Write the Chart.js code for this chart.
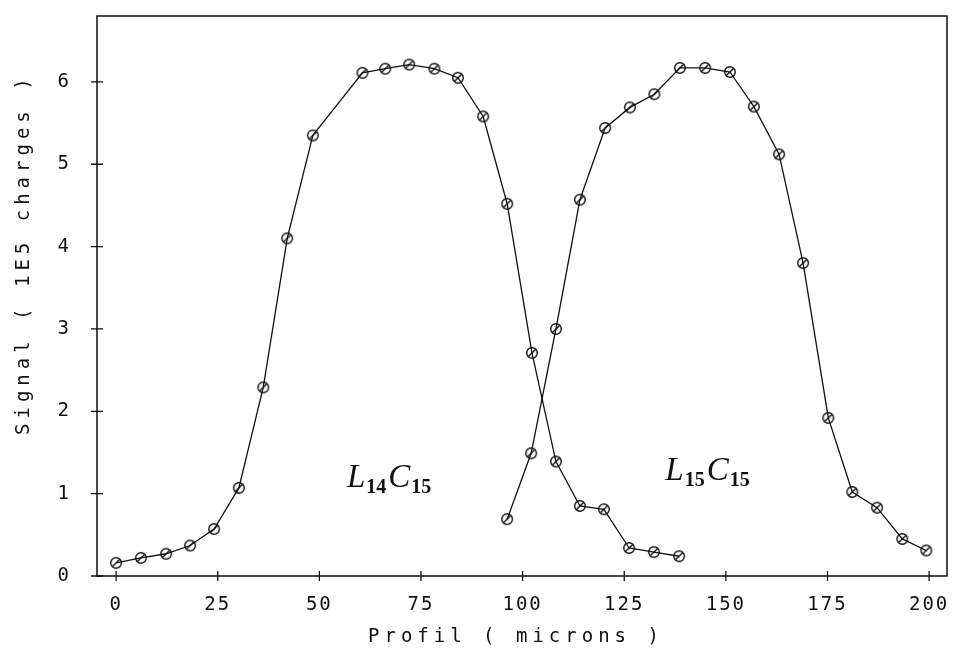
<!DOCTYPE html>
<html>
<head>
<meta charset="utf-8">
<script src="https://cdn.jsdelivr.net/npm/chart.js@4/dist/chart.umd.min.js"></script>
<style>
  html, body { margin: 0; padding: 0; background: #fff; }
  #chart { display: block; }
</style>
</head>
<body>
<canvas id="chart" width="974" height="648"></canvas>
<script>
// profile L14C15 (microns, 1E5 charges)
const xL14 = [0, 6.1, 12.3, 18.2, 24.1, 30.2, 36.2, 42.1, 48.4, 60.6, 66.2, 72.1, 78.3, 84.1, 90.3, 96.2, 102.3, 108.2, 114.1, 120.0, 126.2, 132.3, 138.5];
const yL14 = [0.16, 0.22, 0.27, 0.37, 0.57, 1.07, 2.29, 4.1, 5.35, 6.11, 6.16, 6.21, 6.16, 6.05, 5.58, 4.52, 2.71, 1.39, 0.85, 0.81, 0.34, 0.29, 0.24];

// profile L15C15
const xL15 = [96.2, 102.1, 108.2, 114.1, 120.3, 126.4, 132.4, 138.7, 144.9, 151.0, 156.9, 163.1, 169.0, 175.2, 181.1, 187.2, 193.4, 199.3];
const yL15 = [0.69, 1.49, 3.0, 4.57, 5.44, 5.69, 5.85, 6.17, 6.17, 6.12, 5.70, 5.12, 3.80, 1.92, 1.02, 0.83, 0.45, 0.31];

const xTicks = [0, 25, 50, 75, 100, 125, 150, 175, 200];
const yTicks = [0, 1, 2, 3, 4, 5, 6];

const xTitle = "Profil ( microns )";
const yTitle = "Signal ( 1E5 charges )";

// curve labels: [main, sub, main, sub] and where they start
const labels = [
  { parts: ["L", "14", "C", "15"], x: 56.8, y: 1.08 },
  { parts: ["L", "15", "C", "15"], x: 135.1, y: 1.17 },
];

const INK = "#111";
const MONO = "'DejaVu Sans Mono', 'Liberation Mono', monospace";

// circle with a slash, like the plotter marker
function makeMarker() {
  const c = document.createElement("canvas");
  c.width = 14;
  c.height = 14;
  const g = c.getContext("2d");
  g.strokeStyle = INK;
  g.lineWidth = 1.4;
  g.beginPath();
  g.arc(7, 7, 5.3, 0, Math.PI * 2);
  g.stroke();
  g.beginPath();
  g.moveTo(3.2, 10.8);
  g.lineTo(10.8, 3.2);
  g.stroke();
  return c;
}
const marker = makeMarker();

const toPts = (xs, ys) => xs.map((x, i) => ({ x, y: ys[i] }));

// frame, crossing ticks, axis titles and the curve names
const plotterPlugin = {
  id: "plotter",
  beforeDraw(chart) {
    chart.ctx.letterSpacing = "2px";
  },
  afterDatasetsDraw(chart) {
    const { ctx, chartArea: a, scales } = chart;
    ctx.save();
    ctx.strokeStyle = INK;
    ctx.lineWidth = 1.5;
    ctx.strokeRect(a.left, a.top, a.right - a.left, a.bottom - a.top);

    ctx.lineWidth = 1.3;
    ctx.beginPath();
    xTicks.forEach((v) => {
      const px = scales.x.getPixelForValue(v);
      ctx.moveTo(px, a.bottom - 5);
      ctx.lineTo(px, a.bottom + 5);
    });
    yTicks.forEach((v) => {
      const py = scales.y.getPixelForValue(v);
      ctx.moveTo(a.left - 6, py);
      ctx.lineTo(a.left + 6, py);
    });
    ctx.stroke();

    // axis titles, wider spaced than the tick labels
    ctx.fillStyle = INK;
    ctx.font = "19px " + MONO;
    ctx.letterSpacing = "5px";
    ctx.textAlign = "left";
    ctx.textBaseline = "middle";
    ctx.fillText(xTitle, 368, 637);
    ctx.save();
    ctx.translate(24, 435);
    ctx.rotate(-Math.PI / 2);
    ctx.fillText(yTitle, 0, 0);
    ctx.restore();

    ctx.letterSpacing = "0px";
    ctx.textBaseline = "alphabetic";
    labels.forEach((lab) => {
      let px = scales.x.getPixelForValue(lab.x);
      const py = scales.y.getPixelForValue(lab.y);
      lab.parts.forEach((t, i) => {
        const sub = i % 2 === 1;
        ctx.font = sub
          ? "bold 20px 'Liberation Serif', 'DejaVu Serif', serif"
          : "italic 33px 'Liberation Serif', 'DejaVu Serif', serif";
        ctx.fillText(t, px, sub ? py + 6 : py);
        px += ctx.measureText(t).width + (sub ? 2 : 1);
      });
    });
    ctx.restore();
  },
};

new Chart(document.getElementById("chart"), {
  type: "scatter",
  data: {
    datasets: [
      {
        label: "L14C15",
        data: toPts(xL14, yL14),
        showLine: true,
        borderColor: INK,
        borderWidth: 1.3,
        pointStyle: marker,
        pointRadius: 6,
      },
      {
        label: "L15C15",
        data: toPts(xL15, yL15),
        showLine: true,
        borderColor: INK,
        borderWidth: 1.3,
        pointStyle: marker,
        pointRadius: 6,
      },
    ],
  },
  options: {
    responsive: false,
    animation: false,
    devicePixelRatio: 1,
    layout: { padding: { top: 16, right: 27, bottom: 0, left: 0 } },
    plugins: {
      legend: { display: false },
      tooltip: { enabled: false },
    },
    scales: {
      x: {
        type: "linear",
        min: -4.7,
        max: 204.4,
        afterBuildTicks: (s) => { s.ticks = xTicks.map((v) => ({ value: v })); },
        afterFit: (s) => {
          s.height = 72;
          s.paddingLeft = 0;
          s.paddingRight = 0;
        },
        grid: { display: false },
        border: { display: false },
        ticks: { color: INK, padding: 10, maxRotation: 0, font: { family: MONO, size: 19 } },
      },
      y: {
        type: "linear",
        min: 0,
        max: 6.8,
        afterBuildTicks: (s) => { s.ticks = yTicks.map((v) => ({ value: v })); },
        afterFit: (s) => {
          s.width = 97;
          s.paddingTop = 0;
          s.paddingBottom = 0;
        },
        grid: { display: false },
        border: { display: false },
        ticks: { color: INK, padding: 18, font: { family: MONO, size: 19 } },
      },
    },
  },
  plugins: [plotterPlugin],
});
</script>
</body>
</html>
